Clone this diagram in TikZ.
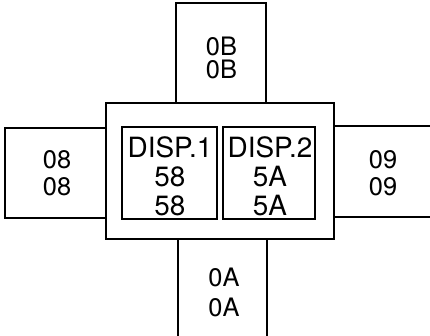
\documentclass[tikz,border=0pt]{standalone}
\usepackage{fontspec}
\setmainfont{TeX Gyre Heros}
\begin{document}
\begin{tikzpicture}[x=1bp,y=1bp,
  box/.style={draw,line width=1.6bp,fill=white,rectangle,inner sep=0pt},
  outtxt/.style={align=center,font=\fontsize{25.5}{23}\selectfont,inner sep=0pt},
  intxt/.style={align=center,font=\fontsize{28}{29}\selectfont,inner sep=0pt}]
\useasboundingbox (0,0) rectangle (430,336);
\clip (0,0) rectangle (430,336);
% outer boxes
\node[box,minimum width=90bp,minimum height=100bp] (top) at (221,283) {};
\node[box,minimum width=101bp,minimum height=90bp] (left) at (55.5,163) {};
\node[box,minimum width=106bp,minimum height=91bp] (right) at (387,164.5) {};
\node[box,minimum width=89bp,minimum height=106bp] (bottom) at (222.5,44) {};
% central box
\node[box,minimum width=228bp,minimum height=136bp] (center) at (220,165) {};
\node[box,minimum width=95bp,minimum height=92bp] (d1) at (169.5,163) {};
\node[box,minimum width=92bp,minimum height=92bp] (d2) at (269,163) {};
% texts
\node[outtxt] (ttop) at (221.5,278) {0B\\0B};
\node[outtxt,font=\fontsize{25.5}{27}\selectfont] (tleft) at (57,162.5) {08\\08};
\node[outtxt,font=\fontsize{25.5}{27}\selectfont] (tright) at (383,162.5) {09\\09};
\node[outtxt,font=\fontsize{25.5}{30}\selectfont] (tbottom) at (224,44) {0A\\0A};
\node[intxt] (td1) at (170,160) {DISP.1\\58\\58};
\node[intxt] (td2) at (270,160) {DISP.2\\5A\\5A};
\end{tikzpicture}
\end{document}
